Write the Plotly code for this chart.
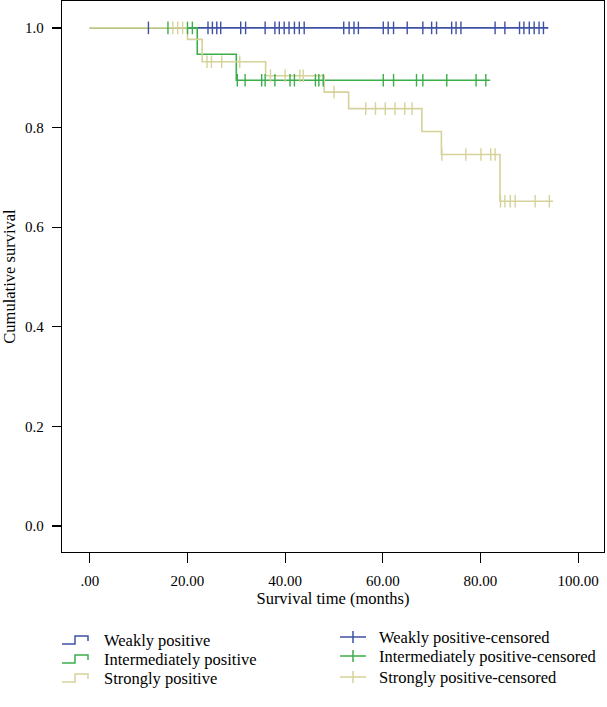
import plotly.graph_objects as go

# ---------------- data ----------------
weak_events = []
weak_surv = []
weak_end = 93.9
weak_censor = [12.0, 24.2, 25.1, 26.0, 26.8, 30.9, 31.9, 35.9, 37.9, 38.8, 39.8, 40.8,
               41.9, 42.9, 43.9, 52.0, 53.1, 54.1, 55.0, 60.1, 61.1, 62.2, 65.0, 68.2,
               70.0, 71.0, 74.1, 75.0, 76.0, 83.0, 85.0, 88.0, 88.9, 90.0, 91.0, 92.0, 92.9]

inter_events = [22.0, 30.0]
inter_surv = [0.947, 0.895]
inter_end = 82.0
inter_censor = [16.0, 20.0, 21.0, 30.2, 31.8, 35.2, 35.9, 37.9, 41.0, 41.9, 46.2, 46.9,
                47.8, 60.1, 62.2, 66.9, 68.2, 73.1, 79.1, 81.1]

strong_events = [20.0, 23.0, 36.0, 48.0, 53.0, 68.0, 72.0, 84.0]
strong_surv = [0.977, 0.932, 0.904, 0.871, 0.838, 0.792, 0.746, 0.652]
strong_end = 94.9
strong_censor = [17.0, 18.0, 19.0, 24.0, 24.9, 27.0, 30.7, 37.0, 40.0, 43.0, 43.7, 50.0,
                 56.5, 58.5, 60.5, 62.5, 64.5, 66.0, 72.1, 77.0, 80.1, 82.1, 83.0, 84.1,
                 85.0, 86.1, 87.1, 91.2, 94.1]

group_names = ["Weakly positive", "Intermediately positive", "Strongly positive"]
colors = ["#3F51A3", "#3AAE4A", "#D6D29A"]

x_tickvals = [0, 20, 40, 60, 80, 100]
x_ticktext = [".00", "20.00", "40.00", "60.00", "80.00", "100.00"]
y_tickvals = [0.0, 0.2, 0.4, 0.6, 0.8, 1.0]
y_ticktext = ["0.0", "0.2", "0.4", "0.6", "0.8", "1.0"]

# ---------------- helpers ----------------
def step_xy(events, surv, end):
    xs = [0.0] + list(events) + [end]
    ys = [1.0] + list(surv) + [surv[-1] if surv else 1.0]
    return xs, ys

def level(t, events, surv):
    v = 1.0
    for e, s in zip(events, surv):
        if t >= e:
            v = s
    return v

FONT = "Liberation Serif"
W, H = 607, 707
ML, MR, MT, MB = 62, 3, 1, 155
PW, PH = W - ML - MR, H - MT - MB

def paper(px, py):
    return (px - ML) / PW, (H - MB - py) / PH

fig = go.Figure()

groups = [
    (weak_events, weak_surv, weak_end, weak_censor),
    (inter_events, inter_surv, inter_end, inter_censor),
    (strong_events, strong_surv, strong_end, strong_censor),
]

for (ev, sv, end, cens), name, col in zip(groups, group_names, colors):
    xs, ys = step_xy(ev, sv, end)
    fig.add_trace(go.Scatter(x=xs, y=ys, mode="lines", line=dict(color=col, width=1.6, shape="hv"),
                             name=name, showlegend=False, hoverinfo="skip"))
for (ev, sv, end, cens), name, col in zip(groups, group_names, colors):
    cy = [level(t, ev, sv) for t in cens]
    fig.add_trace(go.Scatter(x=cens, y=cy, mode="markers",
                             marker=dict(symbol="line-ns", size=9, line=dict(color=col, width=1.4)),
                             name=name + "-censored", showlegend=False, hoverinfo="skip"))

# ---------------- manual legend ----------------
LEG_FONT = dict(family=FONT, size=16.5, color="black")
shapes = []
annotations = []
left_rows = [640, 659, 678]
right_rows = [637, 656, 677]
for i, (name, col) in enumerate(zip(group_names, colors)):
    y = left_rows[i]
    pts = [(62, y + 4), (75, y + 4), (75, y - 4), (88, y - 4), (88, y + 1)]
    path = ""
    for j, (a, b) in enumerate(pts):
        u, v = paper(a, b)
        path += ("M" if j == 0 else "L") + f"{u:.5f},{v:.5f} "
    shapes.append(dict(type="path", path=path, xref="paper", yref="paper",
                       line=dict(color=col, width=1.5)))
    u, v = paper(102, y)
    annotations.append(dict(x=u, y=v, xref="paper", yref="paper", text=name, showarrow=False,
                            xanchor="left", yanchor="middle", font=LEG_FONT))

    y = right_rows[i]
    x0, y0 = paper(340, y)
    x1, _ = paper(366, y)
    xm, ya = paper(353, y - 6)
    _, yb = paper(353, y + 6)
    shapes.append(dict(type="line", x0=x0, x1=x1, y0=y0, y1=y0, xref="paper", yref="paper",
                       line=dict(color=col, width=1.5)))
    shapes.append(dict(type="line", x0=xm, x1=xm, y0=ya, y1=yb, xref="paper", yref="paper",
                       line=dict(color=col, width=1.5)))
    u, v = paper(377, y)
    annotations.append(dict(x=u, y=v, xref="paper", yref="paper", text=name + "-censored", showarrow=False,
                            xanchor="left", yanchor="middle", font=LEG_FONT))

fig.update_layout(
    width=W, height=H,
    margin=dict(l=ML, r=MR, t=MT, b=MB, pad=0),
    paper_bgcolor="white", plot_bgcolor="white",
    font=dict(family=FONT, size=15, color="black"),
    showlegend=False,
    shapes=shapes, annotations=annotations,
)
fig.update_xaxes(range=[-5.7, 105.3], tickvals=x_tickvals, ticktext=x_ticktext,
                 showgrid=False, zeroline=False, showline=True, linecolor="black", linewidth=1.2,
                 mirror=True, ticks="outside", ticklen=10, tickwidth=1.2, tickcolor="black",
                 ticklabelstandoff=5,
                 tickfont=dict(family=FONT, size=15),
                 title=dict(text="Survival time (months)", font=dict(family=FONT, size=16.5), standoff=3))
fig.update_yaxes(range=[-0.052, 1.054], tickvals=y_tickvals, ticktext=y_ticktext,
                 showgrid=False, zeroline=False, showline=True, linecolor="black", linewidth=1.2,
                 mirror=True, ticks="outside", ticklen=9, tickwidth=1.2, tickcolor="black",
                 ticklabelstandoff=5,
                 tickfont=dict(family=FONT, size=15),
                 title=dict(text="Cumulative survival", font=dict(family=FONT, size=16.5), standoff=9))

fig.write_html("out.html", config={"displayModeBar": False, "staticPlot": True},
               post_script="document.body.style.margin='0';document.body.style.overflow='hidden';")
